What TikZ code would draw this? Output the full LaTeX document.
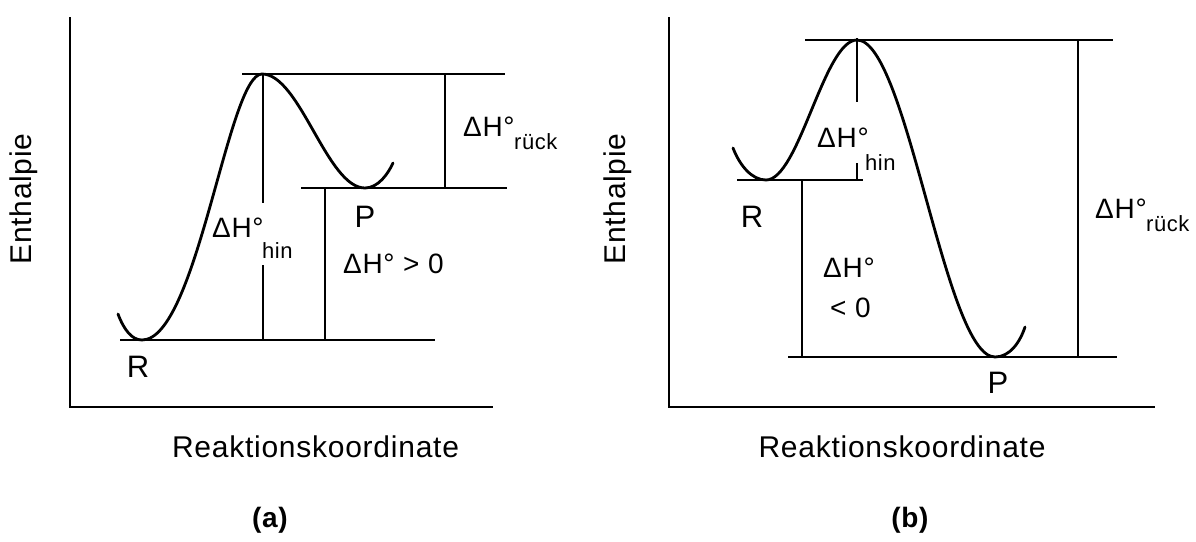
\documentclass[tikz,border=0pt]{standalone}
\usepackage{fontspec}
\setmainfont{Liberation Sans}[LetterSpace=2.5]
\begin{document}
\begin{tikzpicture}[x=1pt,y=-1pt,
  curve/.style={line width=2.8pt, line cap=round},
  lvl/.style={line width=1.6pt},
  axis/.style={line width=1.8pt},
  big/.style={inner sep=0pt, font=\fontsize{30}{32}\selectfont},
  rp/.style={inner sep=0pt, anchor=base, font=\fontsize{31}{33}\selectfont},
  lbl/.style={inner sep=0pt, anchor=base west, font=\fontsize{28}{30}\selectfont},
  sub/.style={inner sep=0pt, anchor=base west, font=\fontsize{22}{24}\selectfont},
  paneltitle/.style={inner sep=0pt, anchor=base, font=\fontsize{28}{30}\selectfont\bfseries}]
\useasboundingbox (0,0) rectangle (1196,541);

% ---------------- panel (a) ----------------
\coordinate (aY) at (70,17); \coordinate (aO) at (70,407); \coordinate (aX) at (493,407);
\draw[axis] (aY) -- (aO) -- (aX);
\coordinate (aT1) at (242,74);  \coordinate (aT2) at (505,74);
\coordinate (aP1) at (301,188); \coordinate (aP2) at (507,188);
\coordinate (aR1) at (120,340); \coordinate (aR2) at (435,340);
\draw[lvl] (aT1) -- (aT2);
\draw[lvl] (aP1) -- (aP2);
\draw[lvl] (aR1) -- (aR2);
\coordinate (aH1) at (263,74);  \coordinate (aH2) at (263,203);
\coordinate (aH3) at (263,265); \coordinate (aH4) at (263,340);
\draw[lvl] (aH1) -- (aH2);
\draw[lvl] (aH3) -- (aH4);
\coordinate (aD1) at (325,188); \coordinate (aD2) at (325,340);
\draw[lvl] (aD1) -- (aD2);
\coordinate (aK1) at (445,74); \coordinate (aK2) at (445,188);
\draw[lvl] (aK1) -- (aK2);
\draw[curve] (118,314) .. controls (124,330) and (132,340) .. (142,340)
  .. controls (197,340) and (228,74) .. (262,74)
  .. controls (300,74) and (327,188) .. (365,188)
  .. controls (378,188) and (388,174) .. (393,163);
\node[lbl] (ahin) at (212,237) {ΔH°};
\node[sub] (ahins) at (262,258) {hin};
\node[lbl] (ark) at (463,136) {ΔH°};
\node[sub] (arks) at (514,149) {rück};
\node[lbl] (agt) at (343,273) {ΔH° > 0};
\node[rp] (aPl) at (365,227) {P};
\node[rp] (aRl) at (138,377) {R};
\node[big, anchor=base] (aRk) at (315.5,457) {Reaktionskoordinate};
\node[big, rotate=90] (aEn) at (23.5,199) {Enthalpie};
\node[paneltitle] (acap) at (270,527) {(a)};

% ---------------- panel (b) ----------------
\coordinate (bY) at (669,17); \coordinate (bO) at (669,407); \coordinate (bX) at (1155,407);
\draw[axis] (bY) -- (bO) -- (bX);
\coordinate (bT1) at (805,40);  \coordinate (bT2) at (1113,40);
\coordinate (bR1) at (737,180); \coordinate (bR2) at (863,180);
\coordinate (bP1) at (788,357); \coordinate (bP2) at (1117,357);
\draw[lvl] (bT1) -- (bT2);
\draw[lvl] (bR1) -- (bR2);
\draw[lvl] (bP1) -- (bP2);
\coordinate (bH1) at (857,38);  \coordinate (bH2) at (857,102);
\coordinate (bH3) at (857,163); \coordinate (bH4) at (857,180);
\draw[lvl] (bH1) -- (bH2);
\draw[lvl] (bH3) -- (bH4);
\coordinate (bD1) at (802,180); \coordinate (bD2) at (802,357);
\draw[lvl] (bD1) -- (bD2);
\coordinate (bK1) at (1078,40); \coordinate (bK2) at (1078,357);
\draw[lvl] (bK1) -- (bK2);
\draw[curve] (733,148) .. controls (740,166) and (752,180) .. (766,180)
  .. controls (799,180) and (824,40) .. (857,40)
  .. controls (907,40) and (945,357) .. (995,357)
  .. controls (1010,357) and (1020,342) .. (1025,327);
\node[lbl] (bhin) at (817,147) {ΔH°};
\node[sub] (bhins) at (865,170) {hin};
\node[lbl] (bdh) at (823,277) {ΔH°};
\node[lbl] (blt) at (830,317) {< 0};
\node[lbl] (brk) at (1095,218) {ΔH°};
\node[sub] (brks) at (1146,231) {rück};
\node[rp] (bPl) at (998,393) {P};
\node[rp] (bRl) at (752,227) {R};
\node[big, anchor=base] (bRk) at (902,457) {Reaktionskoordinate};
\node[big, rotate=90] (bEn) at (618,199) {Enthalpie};
\node[paneltitle] (bcap) at (910,527) {(b)};
\end{tikzpicture}
\end{document}
